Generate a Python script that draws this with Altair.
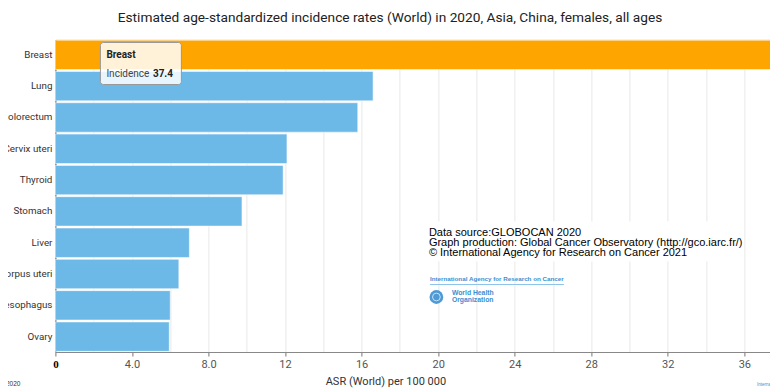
import altair as alt
import pandas as pd

# ---- data ----
sites = ["Breast", "Lung", "Colorectum", "Cervix uteri", "Thyroid",
         "Stomach", "Liver", "Corpus uteri", "Oesophagus", "Ovary"]
asr = [37.4, 16.6, 15.8, 12.1, 11.9, 9.75, 7.0, 6.45, 6.0, 5.95]
highlight = "Breast"
x_grid_values = [0, 2, 4, 6, 8, 10, 12, 14, 16, 18, 20, 22, 24, 26, 28, 30, 32, 34, 36]
title_text = "Estimated age-standardized incidence rates (World) in 2020, Asia, China, females, all ages"
x_title = "ASR (World) per 100 000"
tooltip_label = "Incidence"
source_lines = ["Data source:GLOBOCAN 2020",
                "Graph production: Global Cancer Observatory (http://gco.iarc.fr/)",
                "\u00a9 International Agency for Research on Cancer 2021"]
iarc_text = "International Agency for Research on Cancer"
who_lines = ["World Health", "Organization"]
footer_left = "\u00a9 International Agency for Research on Cancer 2020"
footer_right = "International Agency for Research on Cancer"

df = pd.DataFrame({"site": sites, "asr": asr})
tip_df = pd.DataFrame({"site": [sites[0]], "val": [f"{asr[0]:.1f}"], "lab": [tooltip_label]})

W, H = 714.6, 312.5
FONT = "Roboto"
BLUE = "#6cb8e6"
ORANGE = "#ffa500"

base = alt.Chart(df)

bars = base.mark_bar(stroke="white", strokeOpacity=0.55, strokeWidth=1).encode(
    y=alt.Y("site:N", sort=sites, title=None,
            scale=alt.Scale(paddingInner=0.06, paddingOuter=0.02),
            axis=alt.Axis(labelFont=FONT, labelFontSize=9.8, labelColor="#333",
                          labelPadding=3.5, ticks=False, domainColor="#888",
                          domainWidth=1.5, grid=False, labelLimit=200)),
    x=alt.X("asr:Q", title=x_title,
            scale=alt.Scale(domain=[0, 37.34], nice=False, zero=True),
            axis=alt.Axis(values=x_grid_values, grid=True, gridColor="#e8e8e8",
                          domainColor="#888", domainWidth=1,
                          tickColor={"condition": {"test": "datum.value % 4 !== 0", "value": "transparent"}, "value": "#777"},
                          tickSize=4,
                          labelExpr="datum.value % 4 !== 0 ? '' : datum.value === 0 ? '0' : datum.value < 10 ? format(datum.value, '.1f') : format(datum.value, 'd')",
                          labelFont={"condition": {"test": "datum.value === 0", "value": "Liberation Serif"}, "value": FONT},
                          labelFontWeight={"condition": {"test": "datum.value === 0", "value": "bold"}, "value": "normal"},
                          labelColor={"condition": {"test": "datum.value === 0", "value": "#000"}, "value": "#555"},
                          labelFontSize=11, labelPadding=2, labelFlush=False,
                          titleFont=FONT, titleFontSize=11, titleFontWeight="normal",
                          titleColor="#333", titleX=330, titleY=29, titleAlign="center",
                          titleBaseline="middle")),
    color=alt.condition(alt.datum.site == highlight, alt.value(ORANGE), alt.value(BLUE)),
)

title = alt.Chart(pd.DataFrame({"t": [title_text]})).mark_text(
    font=FONT, fontSize=13.7, color="#222", align="center", baseline="middle"
).encode(text="t:N", x=alt.value(334.6), y=alt.value(-22))

# tooltip box
tip_box = alt.Chart(tip_df).mark_rect(
    fill="white", fillOpacity=0.85, stroke="#999", strokeWidth=1, cornerRadius=3
).encode(x=alt.value(45), x2=alt.value(126), y=alt.value(3), y2=alt.value(45))
tip_name = alt.Chart(tip_df).mark_text(
    font=FONT, fontSize=10, fontWeight="bold", color="#222", align="left", baseline="alphabetic"
).encode(text="site:N", x=alt.value(51), y=alt.value(18))
tip_lab = alt.Chart(tip_df).mark_text(
    font=FONT, fontSize=10, color="#444", align="left", baseline="alphabetic"
).encode(text="lab:N", x=alt.value(51), y=alt.value(37))
tip_val = alt.Chart(tip_df).mark_text(
    font=FONT, fontSize=10, fontWeight="bold", color="#222", align="left", baseline="alphabetic"
).encode(text="val:N", x=alt.value(97.5), y=alt.value(37))

# data source box
src_box = alt.Chart(tip_df).mark_rect(fill="white").encode(
    x=alt.value(370), x2=alt.value(687), y=alt.value(182), y2=alt.value(222))
src_text = alt.Chart(tip_df).mark_text(
    font="Liberation Sans", fontSize=11.0, color="#000", align="left",
    baseline="alphabetic", lineHeight=9.8
).encode(text=alt.value(source_lines), x=alt.value(373.5), y=alt.value(196.5))

iarc = alt.Chart(tip_df).mark_text(
    font="Liberation Sans", fontSize=6.25, fontWeight="bold", color="#3a8fd2",
    align="left", baseline="alphabetic"
).encode(text=alt.value(iarc_text), x=alt.value(374.5), y=alt.value(241.5))
iarc_line = alt.Chart(tip_df).mark_rule(color="#8cc4ec", strokeWidth=1).encode(
    x=alt.value(374.5), x2=alt.value(508.5), y=alt.value(245))
who_circle = alt.Chart(tip_df).mark_point(
    shape="circle", filled=True, color="#3a8fd2", size=190, opacity=0.9
).encode(x=alt.value(381), y=alt.value(257.5))
who_inner = alt.Chart(tip_df).mark_point(
    shape="circle", filled=False, color="white", size=60, strokeWidth=1
).encode(x=alt.value(381), y=alt.value(257.5))
who_text = alt.Chart(tip_df).mark_text(
    font="Liberation Sans", fontSize=6.8, fontWeight="bold", color="#3a8fd2",
    align="left", baseline="alphabetic", lineHeight=7
).encode(text=alt.value(who_lines), x=alt.value(396.5), y=alt.value(255.5))

foot_l = alt.Chart(tip_df).mark_text(
    font="Liberation Sans", fontSize=6.5, color="#333", align="right", baseline="middle"
).encode(text=alt.value(footer_left), x=alt.value(-35), y=alt.value(344))
foot_r = alt.Chart(tip_df).mark_text(
    font="Liberation Sans", fontSize=4.5, color="#3a8fd2", align="left", baseline="middle"
).encode(text=alt.value(footer_right), x=alt.value(701.5), y=alt.value(345.5))

chart = alt.layer(
    bars, title, tip_box, tip_name, tip_lab, tip_val,
    src_box, src_text, iarc, iarc_line, who_circle, who_inner, who_text,
    foot_l, foot_r
).properties(
    width=W, height=H,
    autosize=alt.AutoSizeParams(type="none"),
    padding={"left": 47.4, "top": 31.5, "right": 0, "bottom": 38},
).configure_view(stroke=None).configure(background="white")

chart.save("out.html", embed_options={"renderer": "svg", "actions": False})
